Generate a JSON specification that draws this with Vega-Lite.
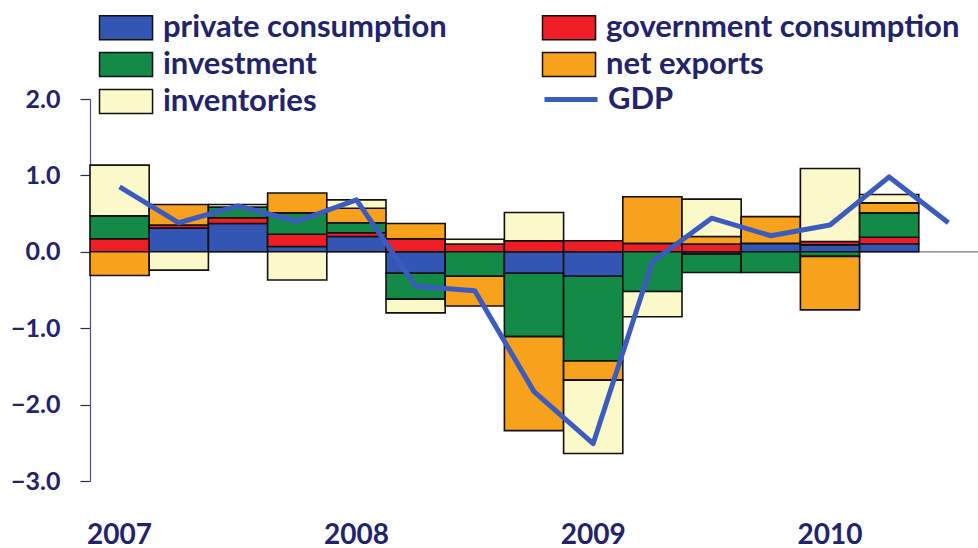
{
  "$schema": "https://vega.github.io/schema/vega-lite/v6.json",
  "width": 888,
  "height": 382,
  "autosize": {"type": "none"},
  "padding": {"left": 90, "top": 99, "right": 0, "bottom": 67},
  "background": "white",
  "config": {
    "view": {"stroke": null},
    "font": "Lato"
  },
  "datasets": {
    "parts": [
      {"q": "2007Q1", "component": "government consumption", "value": 0.17},
      {"q": "2007Q1", "component": "investment", "value": 0.30},
      {"q": "2007Q1", "component": "net exports", "value": -0.31},
      {"q": "2007Q1", "component": "inventories", "value": 0.665},
      {"q": "2007Q2", "component": "private consumption", "value": 0.31},
      {"q": "2007Q2", "component": "government consumption", "value": 0.04},
      {"q": "2007Q2", "component": "net exports", "value": 0.27},
      {"q": "2007Q2", "component": "inventories", "value": -0.24},
      {"q": "2007Q3", "component": "private consumption", "value": 0.37},
      {"q": "2007Q3", "component": "government consumption", "value": 0.075},
      {"q": "2007Q3", "component": "investment", "value": 0.14},
      {"q": "2007Q3", "component": "inventories", "value": 0.035},
      {"q": "2007Q4", "component": "private consumption", "value": 0.07},
      {"q": "2007Q4", "component": "government consumption", "value": 0.16},
      {"q": "2007Q4", "component": "investment", "value": 0.28},
      {"q": "2007Q4", "component": "net exports", "value": 0.26},
      {"q": "2007Q4", "component": "inventories", "value": -0.37},
      {"q": "2008Q1", "component": "private consumption", "value": 0.20},
      {"q": "2008Q1", "component": "government consumption", "value": 0.05},
      {"q": "2008Q1", "component": "investment", "value": 0.13},
      {"q": "2008Q1", "component": "net exports", "value": 0.19},
      {"q": "2008Q1", "component": "inventories", "value": 0.11},
      {"q": "2008Q2", "component": "private consumption", "value": -0.28},
      {"q": "2008Q2", "component": "government consumption", "value": 0.17},
      {"q": "2008Q2", "component": "investment", "value": -0.34},
      {"q": "2008Q2", "component": "net exports", "value": 0.20},
      {"q": "2008Q2", "component": "inventories", "value": -0.18},
      {"q": "2008Q3", "component": "government consumption", "value": 0.10},
      {"q": "2008Q3", "component": "investment", "value": -0.32},
      {"q": "2008Q3", "component": "net exports", "value": -0.39},
      {"q": "2008Q3", "component": "inventories", "value": 0.065},
      {"q": "2008Q4", "component": "private consumption", "value": -0.28},
      {"q": "2008Q4", "component": "government consumption", "value": 0.145},
      {"q": "2008Q4", "component": "investment", "value": -0.83},
      {"q": "2008Q4", "component": "net exports", "value": -1.23},
      {"q": "2008Q4", "component": "inventories", "value": 0.37},
      {"q": "2009Q1", "component": "private consumption", "value": -0.32},
      {"q": "2009Q1", "component": "government consumption", "value": 0.145},
      {"q": "2009Q1", "component": "investment", "value": -1.11},
      {"q": "2009Q1", "component": "net exports", "value": -0.25},
      {"q": "2009Q1", "component": "inventories", "value": -0.96},
      {"q": "2009Q2", "component": "government consumption", "value": 0.11},
      {"q": "2009Q2", "component": "investment", "value": -0.52},
      {"q": "2009Q2", "component": "net exports", "value": 0.61},
      {"q": "2009Q2", "component": "inventories", "value": -0.33},
      {"q": "2009Q3", "component": "private consumption", "value": -0.03},
      {"q": "2009Q3", "component": "government consumption", "value": 0.10},
      {"q": "2009Q3", "component": "investment", "value": -0.24},
      {"q": "2009Q3", "component": "net exports", "value": 0.10},
      {"q": "2009Q3", "component": "inventories", "value": 0.49},
      {"q": "2009Q4", "component": "private consumption", "value": 0.11},
      {"q": "2009Q4", "component": "investment", "value": -0.27},
      {"q": "2009Q4", "component": "net exports", "value": 0.35},
      {"q": "2010Q1", "component": "private consumption", "value": 0.09},
      {"q": "2010Q1", "component": "government consumption", "value": 0.045},
      {"q": "2010Q1", "component": "investment", "value": -0.06},
      {"q": "2010Q1", "component": "net exports", "value": -0.70},
      {"q": "2010Q1", "component": "inventories", "value": 0.955},
      {"q": "2010Q2", "component": "private consumption", "value": 0.105},
      {"q": "2010Q2", "component": "government consumption", "value": 0.085},
      {"q": "2010Q2", "component": "investment", "value": 0.32},
      {"q": "2010Q2", "component": "net exports", "value": 0.13},
      {"q": "2010Q2", "component": "inventories", "value": 0.11}
    ],
    "gdp": [
      {"q": "2007Q1", "value": 0.85, "series": "GDP"},
      {"q": "2007Q2", "value": 0.38, "series": "GDP"},
      {"q": "2007Q3", "value": 0.60, "series": "GDP"},
      {"q": "2007Q4", "value": 0.40, "series": "GDP"},
      {"q": "2008Q1", "value": 0.68, "series": "GDP"},
      {"q": "2008Q2", "value": -0.45, "series": "GDP"},
      {"q": "2008Q3", "value": -0.51, "series": "GDP"},
      {"q": "2008Q4", "value": -1.83, "series": "GDP"},
      {"q": "2009Q1", "value": -2.51, "series": "GDP"},
      {"q": "2009Q2", "value": -0.13, "series": "GDP"},
      {"q": "2009Q3", "value": 0.44, "series": "GDP"},
      {"q": "2009Q4", "value": 0.21, "series": "GDP"},
      {"q": "2010Q1", "value": 0.35, "series": "GDP"},
      {"q": "2010Q2", "value": 0.98, "series": "GDP"},
      {"q": "2010Q3", "value": 0.38, "series": "GDP"}
    ],
    "zero": [{"value": 0}]
  },
  "layer": [
    {
      "data": {"name": "zero"},
      "mark": {"type": "rule", "color": "#777777", "strokeWidth": 1.2},
      "encoding": {
        "y": {"field": "value", "type": "quantitative", "scale": {"domain": [-3, 2], "nice": false, "zero": false}}
      }
    },
    {
      "data": {"name": "parts"},
      "transform": [
        {"calculate": "indexof(['private consumption','government consumption','investment','net exports','inventories'], datum.component)", "as": "stackorder"}
      ],
      "mark": {"type": "bar", "stroke": "#111111", "strokeWidth": 1.6},
      "encoding": {
        "x": {
          "field": "q", "type": "nominal",
          "scale": {
            "domain": ["2007Q1","2007Q2","2007Q3","2007Q4","2008Q1","2008Q2","2008Q3","2008Q4","2009Q1","2009Q2","2009Q3","2009Q4","2010Q1","2010Q2","2010Q3"],
            "paddingInner": 0, "paddingOuter": 0
          },
          "axis": {
            "title": null, "domain": false, "ticks": false,
            "labelAngle": 0,
            "labelExpr": "indexof(datum.value, 'Q1') >= 0 ? slice(datum.value, 0, 4) : ''",
            "labelFont": "Lato", "labelFontSize": 28, "labelFontWeight": "bold",
            "labelColor": "#23236b", "labelPadding": 40
          }
        },
        "y": {
          "field": "value", "type": "quantitative", "stack": "zero",
          "axis": {
            "title": null, "grid": false,
            "values": [-3, -2, -1, 0, 1, 2], "format": ".1f",
            "domainColor": "#4d4d94", "domainWidth": 1.2,
            "tickColor": "#2a2a5a", "tickSize": 10, "tickWidth": 1.2,
            "labelFont": "Lato", "labelFontSize": 25, "labelFontWeight": "bold",
            "labelColor": "#23236b", "labelPadding": 20
          }
        },
        "order": {"field": "stackorder", "type": "quantitative", "sort": "ascending"},
        "color": {
          "field": "component", "type": "nominal",
          "scale": {
            "domain": ["private consumption", "government consumption", "investment", "net exports", "inventories"],
            "range": ["#3355b3", "#ee1d26", "#138a48", "#f7a11c", "#fbf8c9"]
          },
          "legend": {
            "title": null,
            "orient": "none",
            "direction": "horizontal",
            "legendX": 7,
            "legendY": -87,
            "columns": 2,
            "columnPadding": 92,
            "rowPadding": 5,
            "padding": 0,
            "symbolType": "M-1,-0.92H3.08V0.92H-1Z",
            "symbolSize": 676,
            "symbolStrokeWidth": 1.5,
            "symbolStrokeColor": "#111111",
            "symbolOpacity": 1,
            "labelFont": "Lato", "labelFontSize": 31, "labelFontWeight": "bold",
            "labelColor": "#23236b", "labelOffset": 35, "labelLimit": 500
          }
        }
      }
    },
    {
      "data": {"name": "gdp"},
      "mark": {"type": "line", "strokeWidth": 5, "strokeJoin": "round"},
      "encoding": {
        "x": {"field": "q", "type": "nominal"},
        "y": {"field": "value", "type": "quantitative"},
        "stroke": {
          "field": "series", "type": "nominal",
          "scale": {"domain": ["GDP"], "range": ["#3b5bbf"]},
          "legend": {
            "title": null,
            "orient": "none",
            "legendX": 452,
            "legendY": -15,
            "padding": 0,
            "symbolType": "M-1,0H3.08",
            "symbolSize": 676,
            "symbolStrokeWidth": 5,
            "labelFont": "Lato", "labelFontSize": 31, "labelFontWeight": "bold",
            "labelColor": "#23236b", "labelOffset": 35
          }
        }
      }
    }
  ]
}
